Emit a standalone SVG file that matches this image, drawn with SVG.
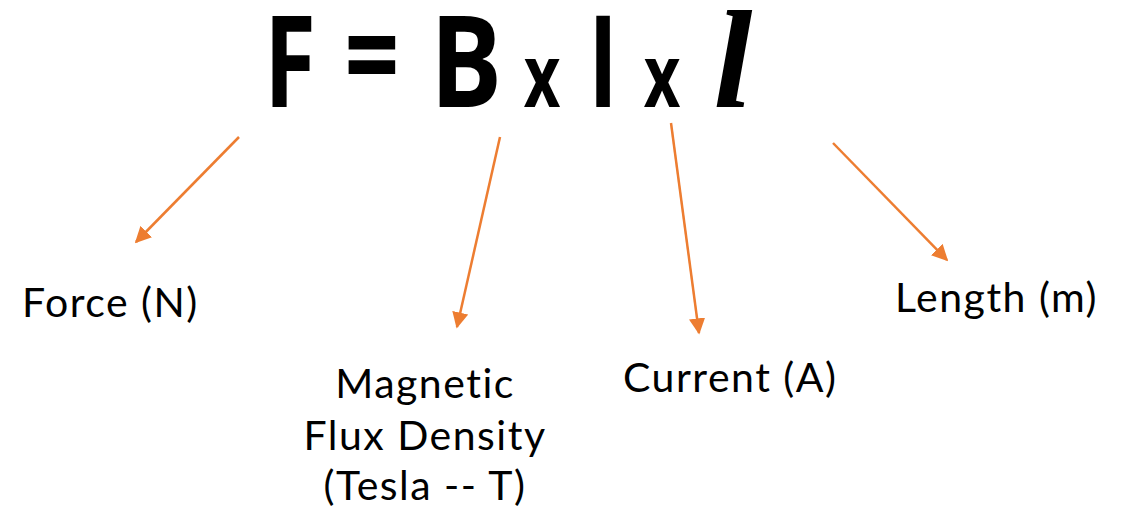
<svg xmlns="http://www.w3.org/2000/svg" width="1127" height="511" viewBox="0 0 1127 511">
  <defs>
    <marker id="ah" viewBox="0 0 10 10" refX="9" refY="5" markerWidth="6.5" markerHeight="6.5" markerUnits="strokeWidth" orient="auto">
      <path d="M0,0 L10,5 L0,10 z" fill="#ED7D31"/>
    </marker>
  </defs>
  <style>
    .big{font-family:"Open Sans","DejaVu Sans",sans-serif;font-weight:bold;font-size:128px;fill:#000;text-anchor:middle}
    .op{font-family:"Open Sans","DejaVu Sans",sans-serif;font-weight:bold;font-size:88px;fill:#000;text-anchor:middle}
    .ell{font-family:"Liberation Serif",serif;font-weight:bold;font-style:italic;font-size:140px;fill:#000;text-anchor:middle}
    .lbl{font-family:Lato,"Open Sans",sans-serif;font-size:41px;letter-spacing:1.5px;fill:#000}
    .arr{stroke:#ED7D31;stroke-width:2.5;fill:none;marker-end:url(#ah)}
  </style>
  <rect width="1127" height="511" fill="#fff"/>
  <g id="formula">
    <text class="big" transform="translate(290,107) scale(0.74,1)">F</text>
    <text class="big" transform="translate(372,100) scale(0.75,1)">=</text>
    <text class="big" transform="translate(466,107) scale(0.84,1)">B</text>
    <text class="op" transform="translate(542,107) scale(0.72,1)">x</text>
    <text class="big" transform="translate(603,107) scale(0.7,1)">I</text>
    <text class="op" transform="translate(662,107) scale(0.72,1)">x</text>
    <text class="ell" transform="translate(733,107)">l</text>
  </g>
  <g id="connectors">
    <line class="arr" x1="239" y1="137" x2="136" y2="242"/>
    <line class="arr" x1="500" y1="137" x2="457" y2="327"/>
    <line class="arr" x1="671" y1="123" x2="699" y2="333"/>
    <line class="arr" x1="833" y1="143" x2="947" y2="260"/>
  </g>
  <g id="force"><text class="lbl" x="22" y="317">Force (N)</text></g>
  <g id="flux">
    <text class="lbl" text-anchor="middle" x="425" y="398">Magnetic</text>
    <text class="lbl" text-anchor="middle" x="425" y="450">Flux Density</text>
    <text class="lbl" text-anchor="middle" x="425" y="500">(Tesla -- T)</text>
  </g>
  <g id="current"><text class="lbl" x="623" y="392">Current (A)</text></g>
  <g id="length"><text class="lbl" x="895" y="312">Length (m)</text></g>
</svg>
